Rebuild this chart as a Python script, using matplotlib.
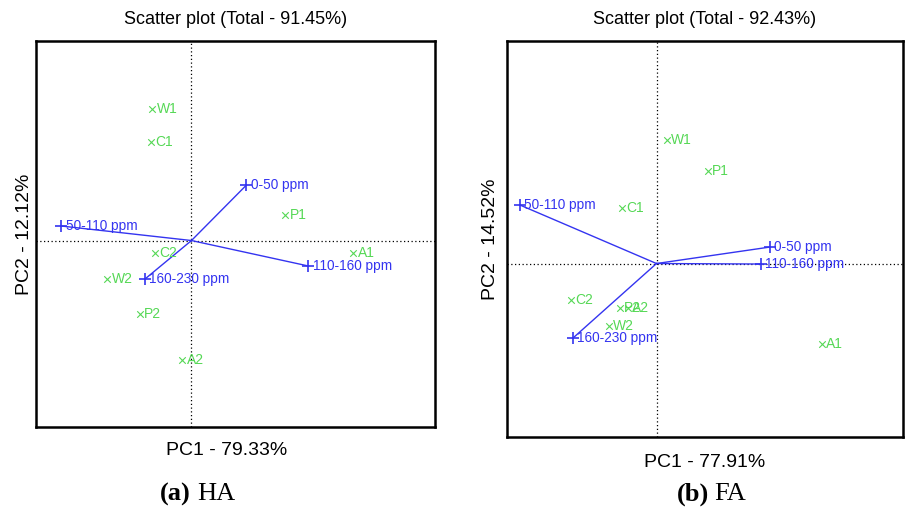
import matplotlib.pyplot as plt

plt.rcParams['font.family'] = ['Liberation Sans', 'DejaVu Sans']

# ---- HA panel ----
ha_samples = ['W1', 'C1', 'P1', 'A1', 'C2', 'W2', 'P2', 'A2']
ha_pc1 = [-0.78, -0.81, 1.88, 3.24, -0.73, -1.68, -1.03, -0.18]
ha_pc2 = [2.63, 1.98, 0.51, -0.24, -0.25, -0.77, -1.47, -2.39]
ha_vars = ['0-50 ppm', '50-110 ppm', '110-160 ppm', '160-230 ppm']
ha_load1 = [1.10, -2.60, 2.34, -0.93]
ha_load2 = [1.11, 0.29, -0.51, -0.77]

# ---- FA panel ----
fa_samples = ['W1', 'P1', 'C1', 'C2', 'P2', 'A2', 'W2', 'A1']
fa_pc1 = [0.21, 1.03, -0.69, -1.70, -0.73, -0.58, -0.95, 3.30]
fa_pc2 = [2.48, 1.85, 1.12, -0.73, -0.88, -0.88, -1.25, -1.61]
fa_vars = ['0-50 ppm', '50-110 ppm', '110-160 ppm', '160-230 ppm']
fa_load1 = [2.27, -2.73, 2.09, -1.67]
fa_load2 = [0.33, 1.17, -0.01, -1.49]

green = '#55d855'
blue = '#3434f0'

fig = plt.figure(figsize=(9.06, 5.13), dpi=100)
ax1 = fig.add_axes([0.0397, 0.1676, 0.4404, 0.7524])
ax2 = fig.add_axes([0.5596, 0.1481, 0.4371, 0.7719])


def biplot(ax, names, x, y, vnames, lx, ly, xlim, ylim, title, xlab, ylab, ypad):
    ax.axhline(0, color='black', ls=(0, (1, 2)), lw=0.9, zorder=1)
    ax.axvline(0, color='black', ls=(0, (1, 2)), lw=0.9, zorder=1)
    ax.scatter(x, y, marker='x', s=22, color=green, linewidths=0.8, zorder=3)
    for n, a, b in zip(names, x, y):
        ax.annotate(n, (a, b), xytext=(3, 0), textcoords='offset points',
                    va='center', ha='left', fontsize=10, color=green)
    for n, a, b in zip(vnames, lx, ly):
        ax.plot([0, a], [0, b], color=blue, lw=1.0, zorder=2)
        ax.plot(a, b, marker='+', ms=8, mew=1.2, color=blue, zorder=3)
        ax.annotate(n, (a, b), xytext=(3, 0), textcoords='offset points',
                    va='center', ha='left', fontsize=9.8, color=blue)
    ax.set_xlim(xlim)
    ax.set_ylim(ylim)
    ax.set_xticks([])
    ax.set_yticks([])
    for s in ax.spines.values():
        s.set_linewidth(1.8)
    ax.set_title(title, fontsize=13, pad=12,
                 family=['Liberation Sans Narrow', 'Liberation Sans'])
    ax.set_xlabel(xlab, fontsize=14, labelpad=12)
    ax.set_ylabel(ylab, fontsize=14, labelpad=ypad)


biplot(ax1, ha_samples, ha_pc1, ha_pc2, ha_vars, ha_load1, ha_load2,
       (-3.11, 4.87), (-3.73, 3.99), 'Scatter plot (Total - 91.45%)',
       'PC1 - 79.33%', 'PC2 - 12.12%', 2)
biplot(ax2, fa_samples, fa_pc1, fa_pc2, fa_vars, fa_load1, fa_load2,
       (-2.99, 4.93), (-3.47, 4.45), 'Scatter plot (Total - 92.43%)',
       'PC1 - 77.91%', 'PC2 - 14.52%', 6)
ax1.xaxis.set_label_coords(0.479, -0.04)
ax1.xaxis.label.set_va('top')

serif = ['Liberation Serif', 'DejaVu Serif']
fig.text(0.1766, 0.037, '(a)', fontsize=19, fontweight='bold', family=serif,
         ha='left', va='center')
fig.text(0.2175, 0.037, 'HA', fontsize=19, family=serif, ha='left', va='center')
fig.text(0.7472, 0.037, '(b)', fontsize=19, fontweight='bold', family=serif,
         ha='left', va='center')
fig.text(0.788, 0.037, 'FA', fontsize=19, family=serif, ha='left', va='center')

fig.savefig('out.png', dpi=100)
